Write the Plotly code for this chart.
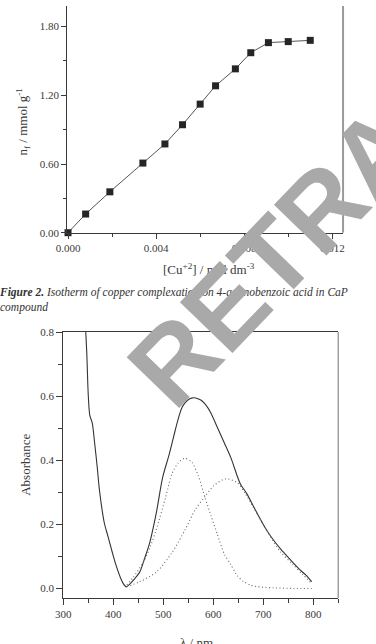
import plotly.graph_objects as go

W, H = 376, 644

# ---- Top chart: isotherm ----
cu_conc = [0, 0.0008, 0.0019, 0.0034, 0.0044, 0.0052, 0.0060, 0.0067, 0.0076, 0.0083, 0.0091, 0.0100, 0.0110]
n_f = [0, 0.163, 0.357, 0.608, 0.775, 0.943, 1.123, 1.283, 1.431, 1.572, 1.660, 1.669, 1.680]
top_xticks = [0, 0.004, 0.008, 0.012]
top_xticktext = ["0.000", "0.004", "0.008", "0.012"]
top_yticks = [0, 0.6, 1.2, 1.8]
top_yticktext = ["0.00", "0.60", "1.20", "1.80"]

# ---- Bottom chart: absorbance spectra ----
solid_wl = [345, 347, 350, 353, 358, 363, 368, 372, 382, 389, 398, 405, 415, 420, 426, 432, 440, 453, 463, 473,
            486, 499, 512, 525, 532, 538, 544, 550, 556, 562, 568, 575, 583, 590, 596, 609, 622, 635, 654, 667,
            686, 706, 720, 735, 753, 771, 785, 797]
solid_abs = [0.80, 0.736, 0.603, 0.541, 0.516, 0.45, 0.378, 0.312, 0.205, 0.165, 0.113, 0.075, 0.031, 0.015, 0.005,
             0.012, 0.025, 0.051, 0.095, 0.143, 0.235, 0.348, 0.419, 0.50, 0.540, 0.566, 0.580, 0.589, 0.594, 0.595,
             0.593, 0.588, 0.577, 0.562, 0.545, 0.50, 0.455, 0.409, 0.327, 0.296, 0.24, 0.184, 0.152, 0.123, 0.092,
             0.062, 0.042, 0.021]
band1_wl = [427, 440, 460, 474, 486, 505, 518, 530, 543, 557, 570, 583, 596, 608, 622, 635, 648, 661, 674, 686,
            720, 760, 797]
band1_abs = [0.011, 0.035, 0.082, 0.13, 0.184, 0.286, 0.36, 0.392, 0.406, 0.394, 0.352, 0.286, 0.225, 0.17, 0.108,
             0.075, 0.04, 0.021, 0.011, 0.006, 0.002, 0.0, 0.0]
band2_wl = [427, 453, 486, 518, 544, 564, 583, 602, 625, 648, 664, 685, 706, 735, 758, 778, 797]
band2_abs = [0.005, 0.021, 0.051, 0.113, 0.184, 0.246, 0.286, 0.322, 0.342, 0.33, 0.296, 0.24, 0.184, 0.113, 0.077,
             0.045, 0.016]
bot_xticks = [300, 400, 500, 600, 700, 800]
bot_yticks = [0.0, 0.2, 0.4, 0.6, 0.8]
bot_yticktext = ["0.0", "0.2", "0.4", "0.6", "0.8"]

TXT = "#3a3a3a"
LINE = "#3a3a3a"
SERIF = "Liberation Serif, Times New Roman, serif"

fig = go.Figure()
fig.add_trace(go.Scatter(
    x=cu_conc, y=n_f, mode="lines+markers", xaxis="x", yaxis="y",
    line=dict(color="#555555", width=1),
    marker=dict(symbol="square", size=7, color="#252525", line=dict(width=0)),
    showlegend=False, cliponaxis=False))
fig.add_trace(go.Scatter(
    x=solid_wl, y=solid_abs, mode="lines", xaxis="x2", yaxis="y2",
    line=dict(color="#333333", width=1.1, shape="spline", smoothing=0.8), showlegend=False))
fig.add_trace(go.Scatter(
    x=band1_wl, y=band1_abs, mode="lines", xaxis="x2", yaxis="y2",
    line=dict(color="#666666", width=1.1, dash="1px,2.5px", shape="spline", smoothing=0.8), showlegend=False))
fig.add_trace(go.Scatter(
    x=band2_wl, y=band2_abs, mode="lines", xaxis="x2", yaxis="y2",
    line=dict(color="#666666", width=1.1, dash="1px,2.5px", shape="spline", smoothing=0.8), showlegend=False))

tickfont = dict(family=SERIF, size=11, color=TXT)
common = dict(showgrid=False, zeroline=False, showline=True, linecolor=LINE, linewidth=1,
              ticks="outside", tickcolor=LINE, tickwidth=1, tickfont=tickfont)

fig.update_layout(
    width=W, height=H, margin=dict(l=0, r=0, t=0, b=0),
    paper_bgcolor="white", plot_bgcolor="white",
    xaxis=dict(domain=[58 / W, 343 / W], range=[-0.00004, 0.01249], anchor="y",
               tickvals=top_xticks, ticktext=top_xticktext, ticklen=5,
               minor=dict(tickvals=[0.002, 0.006, 0.010], ticklen=3, ticks="outside", tickcolor=LINE),
               **common),
    yaxis=dict(domain=[1 - 231 / H, 1], range=[0, 1.98], anchor="x",
               tickvals=top_yticks, ticktext=top_yticktext, ticklen=5,
               minor=dict(tickvals=[0.3, 0.9, 1.5], ticklen=3, ticks="outside", tickcolor=LINE),
               **common),
    xaxis2=dict(domain=[54 / W, 338 / W], range=[300, 850], anchor="y2", mirror=True,
                tickvals=bot_xticks, ticklen=6,
                minor=dict(tickvals=[350, 450, 550, 650, 750, 850], ticklen=4, ticks="outside", tickcolor=LINE),
                **common),
    yaxis2=dict(domain=[1 - 603.3 / H, 1 - 332.3 / H], range=[-0.03, 0.8], anchor="x2",
                tickvals=bot_yticks, ticktext=bot_yticktext, ticklen=6,
                minor=dict(tickvals=[0.1, 0.3, 0.5, 0.7], ticklen=4, ticks="outside", tickcolor=LINE),
                **common),
)

# right spines (lighter grey)
fig.add_shape(type="line", xref="x domain", yref="y domain", x0=1, x1=1, y0=0, y1=1,
              line=dict(color="#9a9a9a", width=2))
fig.add_shape(type="line", xref="x2 domain", yref="y2 domain", x0=1, x1=1, y0=0, y1=1,
              line=dict(color="#8a8a8a", width=1.2))

ann = []
ann.append(dict(text="[Cu<sup>+2</sup>] / mol dm<sup>-3</sup>", xref="paper", yref="paper",
                x=205 / W, y=1 - 268 / H, showarrow=False, xanchor="center", yanchor="middle",
                font=dict(family=SERIF, size=13, color=TXT)))
ann.append(dict(text="n<sub>f</sub> / mmol g<sup>-1</sup>", xref="paper", yref="paper",
                x=12 / W, y=1 - 118 / H, showarrow=False, textangle=-90, xanchor="center", yanchor="middle",
                font=dict(family=SERIF, size=13, color=TXT)))
ann.append(dict(text="<b><i>Figure 2.</i></b><i> Isotherm of copper complexation on 4-aminobenzoic acid in CaP</i><br><i>compound</i>",
                xref="paper", yref="paper", x=-14 / W, y=1 - 283 / H, showarrow=False,
                xanchor="left", yanchor="top", align="left",
                font=dict(family=SERIF, size=11.5, color="#333333")))
ann.append(dict(text="Absorbance", xref="paper", yref="paper",
                x=15 / W, y=1 - 468 / H, showarrow=False, textangle=-90, xanchor="center", yanchor="middle",
                font=dict(family=SERIF, size=13, color=TXT)))
ann.append(dict(text="λ / nm", xref="paper", yref="paper",
                x=192 / W, y=1 - 639 / H, showarrow=False, xanchor="center", yanchor="top",
                font=dict(family=SERIF, size=13, color=TXT)))
ann.append(dict(text="<b>RETRACTED</b>", xref="paper", yref="paper",
                x=376 / W, y=1 - 149 / H, showarrow=False, textangle=-46, xanchor="center", yanchor="middle",
                font=dict(family="Liberation Sans, Arial, sans-serif", size=106, color="#a9a9a9")))
fig.update_layout(annotations=ann)

fig.write_html("out.html")
